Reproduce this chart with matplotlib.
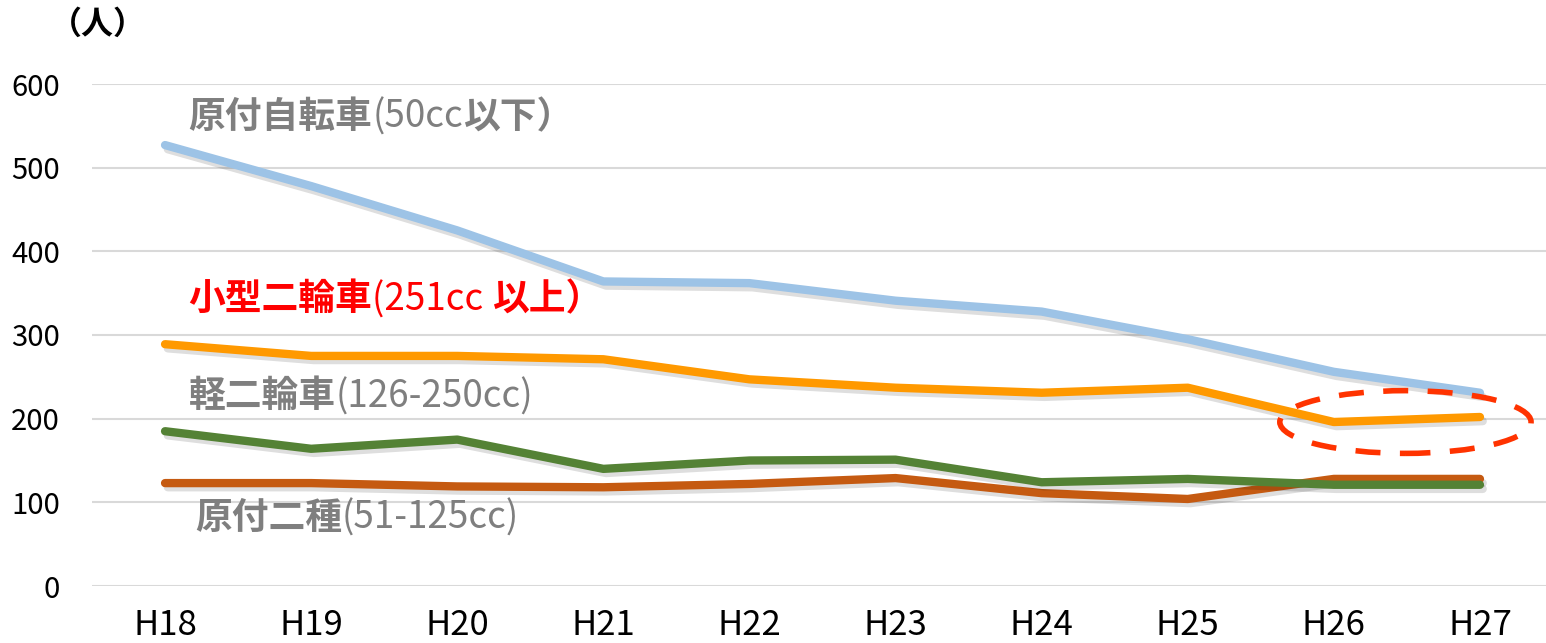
import matplotlib
matplotlib.use("Agg")
import matplotlib.pyplot as plt
import matplotlib.patheffects as pe
from matplotlib.patches import Ellipse

plt.rcParams['font.family'] = ['Noto Sans CJK JP', 'DejaVu Sans']

years = ['H18', 'H19', 'H20', 'H21', 'H22', 'H23', 'H24', 'H25', 'H26', 'H27']
gentsuki = [527, 478, 425, 364, 362, 341, 328, 295, 256, 231]      # 原付自転車
kogata = [289, 275, 275, 271, 247, 237, 231, 237, 196, 202]        # 小型二輪車
keinirin = [185, 164, 175, 140, 150, 151, 124, 128, 121, 121]      # 軽二輪車
gentsuki2 = [123, 123, 119, 118, 122, 129, 111, 104, 128, 128]     # 原付二種

fig = plt.figure(figsize=(15.46, 6.43), dpi=100)
ax = fig.add_axes([92 / 1546, 57 / 643, 1461 / 1546, 502 / 643])

x = list(range(len(years)))
shadow = [pe.SimpleLineShadow(offset=(2, -3), alpha=0.13, shadow_color='black'), pe.Normal()]
for vals, col in [(gentsuki, '#9dc3e6'), (kogata, '#ff9900'),
                  (gentsuki2, '#c55a11'), (keinirin, '#548235')]:
    ax.plot(x, vals, color=col, lw=6, solid_capstyle='round',
            solid_joinstyle='round', path_effects=shadow)

ax.set_xlim(-0.5, 9.5)
ax.set_ylim(0, 600)
ax.set_yticks(range(0, 601, 100))
ax.set_xticks(x)
ax.set_xticklabels(years, fontsize=25)
ax.tick_params(axis='y', labelsize=21, length=0, pad=23)
ax.tick_params(axis='x', length=0, pad=16)
ax.grid(axis='y', color='#d9d9d9', lw=1.5)
ax.set_axisbelow(True)
for s in ax.spines.values():
    s.set_visible(False)

fig.text(50 / 1546, 1 - 25 / 643, '（人）', fontsize=23, fontweight='bold', va='center')

# series labels: bold japanese part + regular parenthesis part
labels = [
    (0.16, 560, '原付自転車', '(50cc', '以下）', '#7f7f7f'),
    (0.16, 342, '小型二輪車', '(251cc ', '以上）', '#ff0000'),
    (0.16, 226, '軽二輪車', '(126-250cc)', '', '#7f7f7f'),
    (0.205, 81, '原付二種', '(51-125cc)', '', '#7f7f7f'),
]
fig.canvas.draw()
r = fig.canvas.get_renderer()
for lx, ly, p1, p2, p3, col in labels:
    t = ax.text(lx, ly, p1, fontsize=26.5, fontweight='bold', color=col, va='center')
    prev = t
    for part, w in [(p2, 'normal'), (p3, 'bold')]:
        if not part:
            continue
        ext = prev.get_window_extent(renderer=r)
        tr = ax.transData.inverted()
        nx = tr.transform((ext.x1, 0))[0]
        prev = ax.text(nx, ly, part, fontsize=26.5, fontweight=w, color=col, va='center')

ell = Ellipse((8.49, 196), 1.72, 75, fill=False, edgecolor='#ff3300', lw=4,
              linestyle=(0, (4.5, 3.5)), zorder=5)
ax.add_patch(ell)

fig.savefig('out.png', dpi=100)
